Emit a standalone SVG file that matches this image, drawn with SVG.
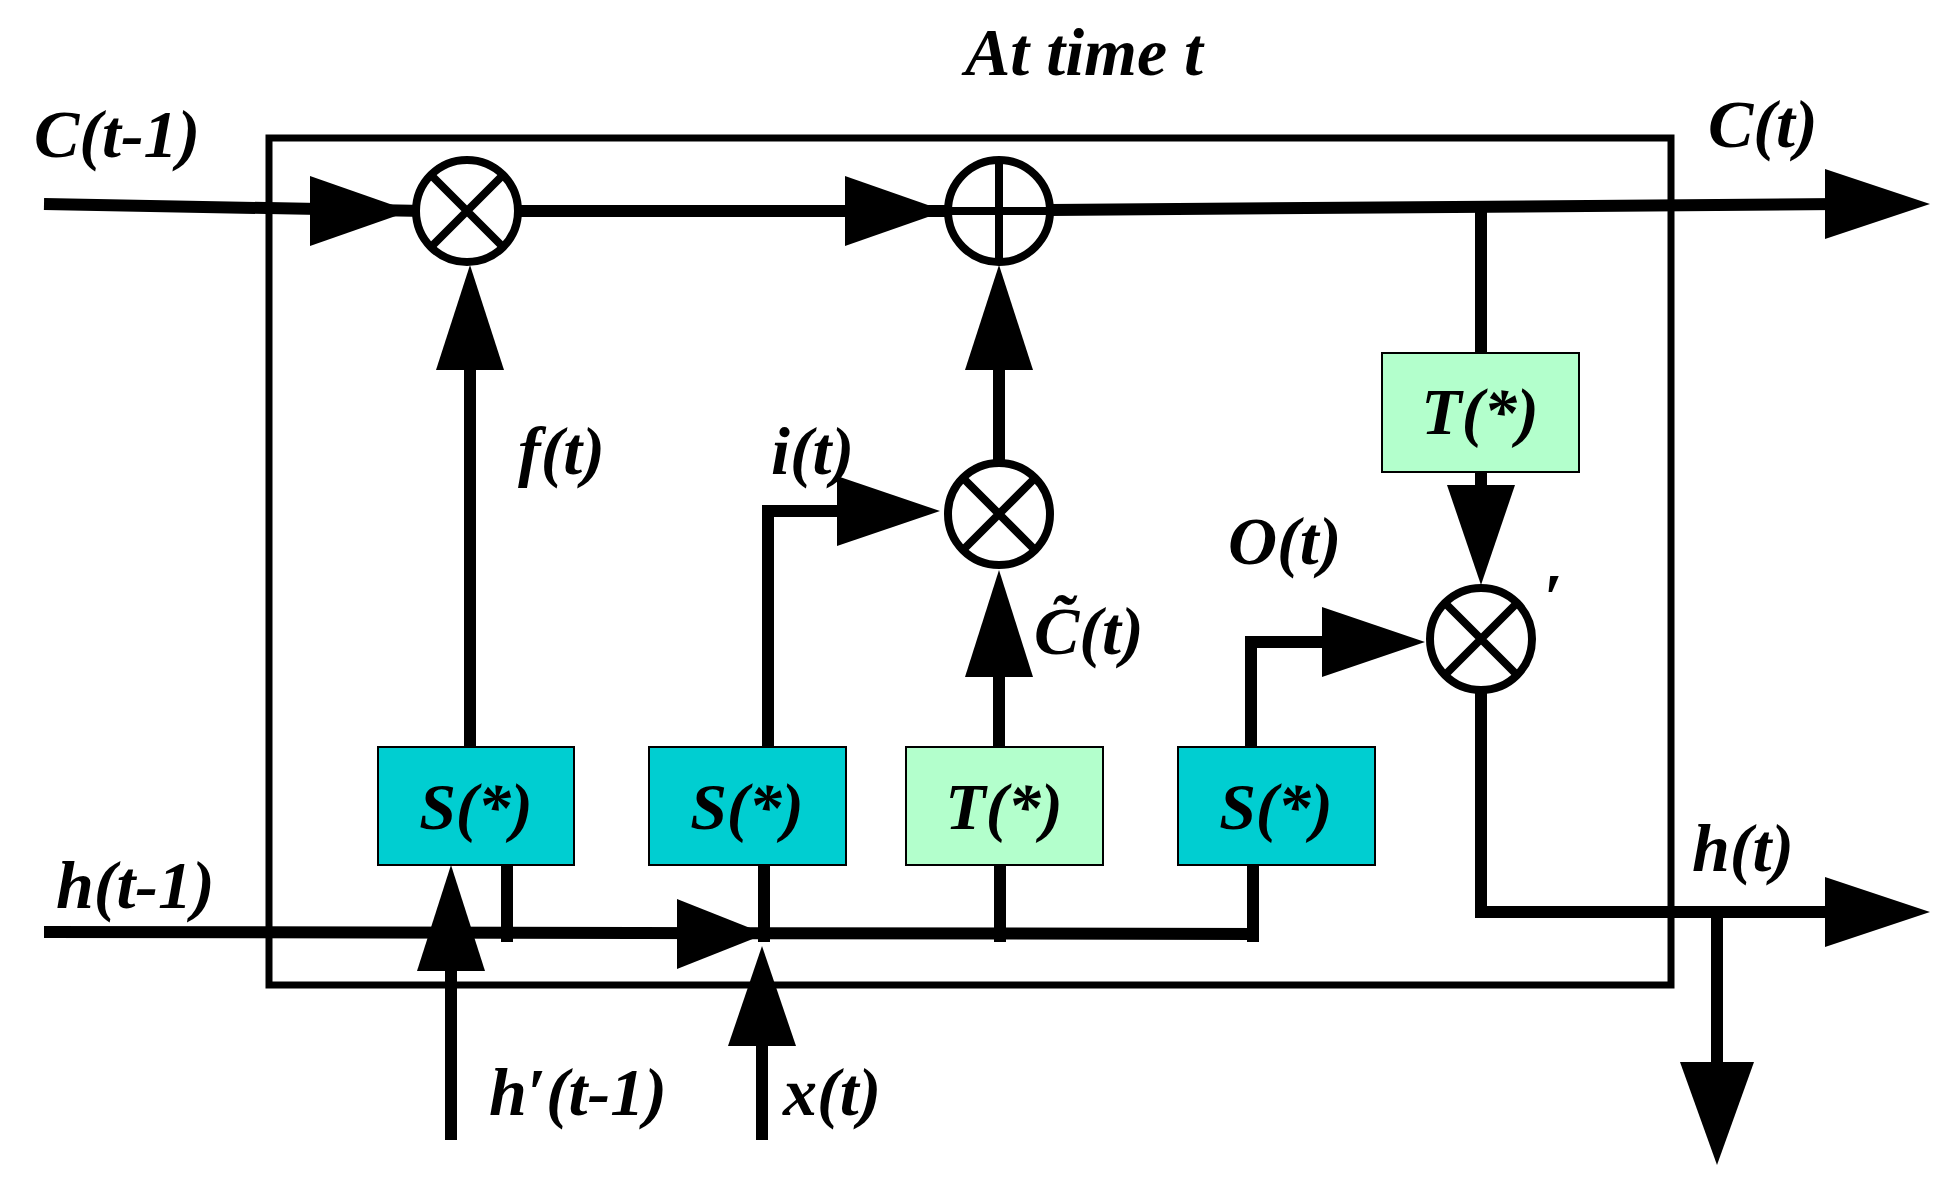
<svg xmlns="http://www.w3.org/2000/svg" width="1955" height="1198" viewBox="0 0 1955 1198">
<style>
.ln{stroke:#000;stroke-width:12;fill:none;stroke-linejoin:miter}
.op{fill:#fff;stroke:#000;stroke-width:8}
.opl{stroke:#000;stroke-width:8}
.s{fill:#00CED1;stroke:#000;stroke-width:2}
.t{fill:#B3FFCC;stroke:#000;stroke-width:2}
.tx{font-family:"Liberation Serif",serif;font-style:italic;font-weight:bold;font-size:68px;fill:#000}
.bt{font-family:"Liberation Serif",serif;font-style:italic;font-weight:bold;font-size:66px;fill:#000;text-anchor:middle}
.ah{fill:#000}
</style>
<rect width="1955" height="1198" fill="#fff"/>
<text class="tx" x="1084" y="75" text-anchor="middle" font-size="74">At time t</text>
<rect x="269" y="138" width="1402" height="847" fill="none" stroke="#000" stroke-width="7"/>
<g id="connectors">
<path class="ln" d="M44 204 L425 211"/>
<polygon class="ah" points="310,176 410,211 310,246"/>
<path class="ln" d="M520 211 L950 211"/>
<polygon class="ah" points="845,176 945,211 845,246"/>
<path class="ln" d="M1050 210 L1840 204"/>
<polygon class="ah" points="1825,169 1930,204 1825,239"/>
<path class="ln" d="M1481 206 L1481 353"/>
<path class="ln" d="M1481 472 L1481 500"/>
<polygon class="ah" points="1447,485 1515,485 1481,585"/>
<path class="ln" d="M1481 692 L1481 912 L1840 912"/>
<polygon class="ah" points="1825,877 1930,912 1825,947"/>
<path class="ln" d="M1717 912 L1717 1075"/>
<polygon class="ah" points="1680,1062 1754,1062 1717,1165"/>
<path class="ln" d="M1251 747 L1251 642 L1340 642"/>
<polygon class="ah" points="1322,607 1425,642 1322,677"/>
<path class="ln" d="M999 460 L999 330"/>
<polygon class="ah" points="965,370 1033,370 999,265"/>
<path class="ln" d="M768 747 L768 511 L850 511"/>
<polygon class="ah" points="837,476 940,511 837,546"/>
<path class="ln" d="M999 747 L999 660"/>
<polygon class="ah" points="965,677 1033,677 999,570"/>
<path class="ln" d="M470 747 L470 330"/>
<polygon class="ah" points="436,370 504,370 470,265"/>
<path class="ln" d="M44 932 L1257 934"/>
<polygon class="ah" points="677,899 765,934 677,969"/>
<path class="ln" d="M507 865 L507 942 M764 865 L764 942 M1000 865 L1000 942 M1253 865 L1253 942"/>
<path class="ln" d="M451 1140 L451 950"/>
<polygon class="ah" points="417,971 485,971 451,865"/>
<path class="ln" d="M762 1140 L762 1030"/>
<polygon class="ah" points="728,1046 796,1046 762,946"/>
</g>
<g id="mult1"><circle class="op" cx="467" cy="211" r="51"/><path class="opl" d="M431 175 L503 247 M503 175 L431 247"/></g>
<g id="plus"><circle class="op" cx="999" cy="211" r="51"/><path class="opl" d="M948 211 L1050 211 M999 160 L999 262"/></g>
<g id="mult2"><circle class="op" cx="999" cy="514" r="51"/><path class="opl" d="M963 478 L1035 550 M1035 478 L963 550"/></g>
<g id="mult3"><circle class="op" cx="1481" cy="639" r="51"/><path class="opl" d="M1445 603 L1517 675 M1517 603 L1445 675"/><text class="tx" x="1543" y="620" font-size="30">′</text></g>
<g id="tc"><rect class="t" x="1382" y="353" width="197" height="119"/><text class="bt" x="1480" y="434">T(*)</text></g>
<g id="sf"><rect class="s" x="378" y="747" width="196" height="118"/><text class="bt" x="476" y="829">S(*)</text></g>
<g id="si"><rect class="s" x="649" y="747" width="197" height="118"/><text class="bt" x="747" y="829">S(*)</text></g>
<g id="tg"><rect class="t" x="906" y="747" width="197" height="118"/><text class="bt" x="1004" y="829">T(*)</text></g>
<g id="so"><rect class="s" x="1178" y="747" width="197" height="118"/><text class="bt" x="1276" y="829">S(*)</text></g>
<g id="labels">
<text class="tx" x="34" y="157">C(t-1)</text>
<text class="tx" x="1708" y="147">C(t)</text>
<text class="tx" x="518" y="474">f(t)</text>
<text class="tx" x="771" y="474">i(t)</text>
<text class="tx" x="1034" y="654">C̃(t)</text>
<text class="tx" x="1228" y="564">O(t)</text>
<text class="tx" x="56" y="908">h(t-1)</text>
<text class="tx" x="1692" y="871">h(t)</text>
<text class="tx" x="489" y="1115">h′(t-1)</text>
<text class="tx" x="783" y="1115">x(t)</text>
</g>
</svg>
